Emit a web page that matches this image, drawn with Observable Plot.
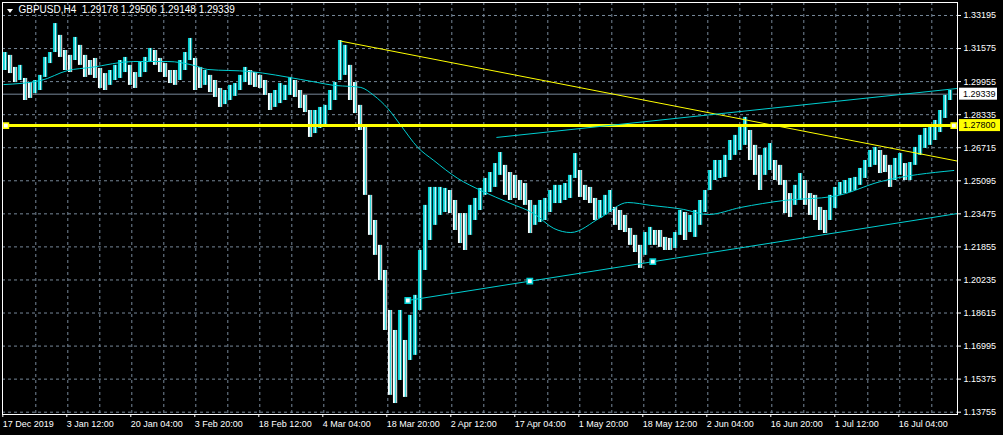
<!DOCTYPE html>
<html><head><meta charset="utf-8">
<script src="https://cdn.jsdelivr.net/npm/d3@7"></script>
<script src="https://cdn.jsdelivr.net/npm/@observablehq/plot@0.6"></script>
<style>html,body{margin:0;padding:0;background:#000;overflow:hidden}#chart{width:1003px;height:435px}</style>
</head><body><div id="chart"></div>
<script>
// ---- data ----
const symbolTitle = "GBPUSD,H4  1.29178 1.29506 1.29148 1.29339";
const barsPerGroup = 5; // each drawn stroke summarises 5 consecutive H4 bars
const groupHigh = [
1.3138,1.3124,1.3065,1.3075,1.3011,1.2991,1.3001,1.3026,1.3114,1.3138,
1.3280,1.3222,1.3148,1.3124,1.3212,1.3173,1.3124,1.3099,1.3109,1.3060,
1.3035,1.3050,1.3075,1.3099,1.3114,1.3075,1.3040,1.3089,1.3114,1.3158,
1.3148,1.3109,1.3084,1.3050,1.3050,1.3099,1.3138,1.3207,1.3109,1.3065,
1.3050,1.3026,1.3001,1.2962,1.2952,1.2977,1.2986,1.3026,1.3065,1.3050,
1.3040,1.3026,1.3001,1.2937,1.2952,1.2986,1.2977,1.3016,1.3001,1.2952,
1.2928,1.2854,1.2854,1.2869,1.2879,1.2952,1.2991,1.3197,1.3173,1.3075,
1.2991,1.2879,1.2781,1.2438,1.2315,1.2193,1.2070,1.1874,1.1776,1.1874,
1.1727,1.1850,1.1948,1.2168,1.2389,1.2477,1.2477,1.2477,1.2472,1.2462,
1.2413,1.2349,1.2349,1.2389,1.2423,1.2472,1.2521,1.2550,1.2594,1.2648,
1.2585,1.2550,1.2536,1.2511,1.2496,1.2413,1.2389,1.2413,1.2423,1.2462,
1.2487,1.2487,1.2496,1.2536,1.2643,1.2560,1.2487,1.2477,1.2423,1.2413,
1.2438,1.2462,1.2379,1.2364,1.2340,1.2276,1.2242,1.2193,1.2256,1.2281,
1.2266,1.2266,1.2232,1.2227,1.2256,1.2364,1.2354,1.2340,1.2364,1.2413,
1.2462,1.2560,1.2609,1.2609,1.2634,1.2707,1.2732,1.2781,1.2820,1.2756,
1.2683,1.2634,1.2668,1.2692,1.2609,1.2585,1.2511,1.2447,1.2487,1.2545,
1.2511,1.2447,1.2438,1.2379,1.2364,1.2438,1.2477,1.2501,1.2511,1.2521,
1.2526,1.2570,1.2609,1.2658,1.2673,1.2658,1.2634,1.2585,1.2619,1.2643,
1.2594,1.2599,1.2673,1.2732,1.2766,1.2771,1.2805,1.2854,1.2928,1.2952];
const groupLow = [
1.3050,1.3035,1.2991,1.3001,1.2903,1.2913,1.2937,1.2952,1.3016,1.3084,
1.3138,1.3114,1.3050,1.3040,1.3099,1.3075,1.3016,1.3026,1.3011,1.2962,
1.2952,1.2977,1.3001,1.3011,1.3040,1.2977,1.2962,1.3016,1.3040,1.3089,
1.3075,1.3040,1.3016,1.2986,1.2977,1.3001,1.3050,1.3099,1.2952,1.2962,
1.2977,1.2942,1.2918,1.2869,1.2883,1.2903,1.2923,1.2952,1.2991,1.2977,
1.2967,1.2962,1.2928,1.2854,1.2869,1.2888,1.2903,1.2928,1.2918,1.2864,
1.2844,1.2722,1.2741,1.2766,1.2781,1.2854,1.2903,1.3001,1.3026,1.2903,
1.2839,1.2756,1.2438,1.2242,1.2144,1.2021,1.1776,1.1458,1.1418,1.1531,
1.1448,1.1629,1.1654,1.1874,1.2070,1.2217,1.2291,1.2340,1.2354,1.2349,
1.2266,1.2202,1.2168,1.2242,1.2315,1.2364,1.2438,1.2452,1.2477,1.2536,
1.2438,1.2413,1.2423,1.2413,1.2389,1.2251,1.2291,1.2305,1.2315,1.2354,
1.2398,1.2398,1.2413,1.2423,1.2521,1.2428,1.2413,1.2398,1.2315,1.2325,
1.2340,1.2354,1.2291,1.2266,1.2256,1.2193,1.2158,1.2080,1.2144,1.2193,
1.2193,1.2183,1.2168,1.2168,1.2178,1.2242,1.2217,1.2256,1.2232,1.2291,
1.2354,1.2462,1.2511,1.2521,1.2526,1.2609,1.2634,1.2658,1.2683,1.2609,
1.2536,1.2462,1.2536,1.2560,1.2511,1.2487,1.2349,1.2330,1.2389,1.2413,
1.2389,1.2340,1.2315,1.2266,1.2251,1.2315,1.2374,1.2438,1.2447,1.2452,
1.2462,1.2487,1.2521,1.2575,1.2585,1.2545,1.2550,1.2477,1.2511,1.2536,
1.2511,1.2511,1.2585,1.2634,1.2668,1.2683,1.2707,1.2746,1.2815,1.2903];
const maBar   = [0,37,64,87,130,164,190,204,246,297,314,330,347,357,370,384,397,414,430,454,477,507,530,550,567,597,624,647,680,704,737,780,830,877,950];
const maValue = [1.2981,1.3001,1.3050,1.3065,1.3094,1.3094,1.3075,1.3055,1.3045,1.3006,1.2991,1.2977,1.2972,1.2967,1.2928,1.2864,1.2781,1.2673,1.2609,1.2521,1.2462,1.2398,1.2349,1.2276,1.2256,1.2330,1.2403,1.2389,1.2369,1.2344,1.2379,1.2413,1.2433,1.2506,1.2560];
const priceTicks = [1.33195,1.31575,1.29955,1.28335,1.26715,1.25095,1.23475,1.21855,1.20235,1.18615,1.16995,1.15375,1.13755];
const timeLabels = ["17 Dec 2019","3 Jan 12:00","20 Jan 04:00","3 Feb 20:00","18 Feb 12:00","4 Mar 04:00","18 Mar 20:00","2 Apr 12:00","17 Apr 04:00","1 May 20:00","18 May 12:00","2 Jun 04:00","16 Jun 20:00","1 Jul 12:00","16 Jul 04:00"];
const barsPerLabel = 64;
const barsPerGrid = 32;
const barDomain = [-1.3, 953.7];
const priceDomain = [1.13642, 1.33832];
const bidPrice = 1.29339;
const levelPrice = 1.27800;
const levelAnchorBars = [2, 950];
const yellowTrend = [{bar:337, price:1.3194},{bar:953.7, price:1.2606}];
const channelUpper = [{bar:493, price:1.2722},{bar:953.7, price:1.2962}];
const channelLower = [{bar:404, price:1.1923},{bar:953.7, price:1.2349}];
const channelAnchors = [{bar:404, price:1.1923},{bar:526, price:1.2018},{bar:649, price:1.2113}];

// ---- derived tables ----
const TEAL = "#00ced1", GRID = "#778899";
const candles = groupHigh.map((h, g) => {
  const mid = (h + groupLow[g]) / 2;
  const prevMid = g > 0 ? (groupHigh[g-1] + groupLow[g-1]) / 2 : mid;
  return {b1: g*barsPerGroup - 0.5, b2: g*barsPerGroup + barsPerGroup - 0.5, high: h, low: groupLow[g], up: mid >= prevMid};
});
const ma = maBar.map((b, i) => ({bar: b, price: maValue[i]}));
const labelBars = timeLabels.map((_, i) => i * barsPerLabel);
const gridBars = d3.range(barsPerGrid, barDomain[1], barsPerGrid);
const levelAnchors = levelAnchorBars.map(b => ({bar: b, price: levelPrice}));

const plot = Plot.plot({
  width: 1003, height: 435,
  marginLeft: 2, marginRight: 46, marginTop: 2, marginBottom: 21,
  style: {background: "#000", color: "#fff", fontFamily: "Liberation Sans, Arial, sans-serif", fontSize: "9px"},
  x: {type: "linear", domain: barDomain},
  y: {type: "linear", domain: priceDomain},
  marks: [
    Plot.gridY(priceTicks, {stroke: GRID, strokeOpacity: 1, strokeDasharray: "3,3"}),
    Plot.gridX(gridBars, {stroke: GRID, strokeOpacity: 1, strokeDasharray: "3,3"}),
    Plot.ruleY([bidPrice], {stroke: GRID, strokeWidth: 1}),
    Plot.rect(candles.filter(d => d.up), {x1: "b1", x2: "b2", y1: "low", y2: "high", fill: "url(#barsUp)"}),
    Plot.rect(candles.filter(d => !d.up), {x1: "b1", x2: "b2", y1: "low", y2: "high", fill: "url(#barsDown)"}),
    Plot.line(ma, {x: "bar", y: "price", stroke: TEAL, strokeWidth: 1, curve: "monotone-x"}),
    Plot.ruleY([levelPrice], {stroke: "#ffff00", strokeWidth: 3}),
    Plot.line(yellowTrend, {x: "bar", y: "price", stroke: "#ffff00", strokeWidth: 1}),
    Plot.line(channelUpper, {x: "bar", y: "price", stroke: TEAL, strokeWidth: 1}),
    Plot.line(channelLower, {x: "bar", y: "price", stroke: TEAL, strokeWidth: 1}),
    Plot.dot(channelAnchors, {x: "bar", y: "price", symbol: "square", r: 3, fill: "#fff", stroke: TEAL, strokeWidth: 1.5}),
    Plot.dot(levelAnchors, {x: "bar", y: "price", symbol: "square", r: 3, fill: "#fff", stroke: "#ffff00", strokeWidth: 1.5}),
    Plot.axisY(priceTicks, {anchor: "right", tickSize: 3, tickPadding: 3, tickFormat: d3.format(".5f"), stroke: "#fff", fill: "#fff", label: null}),
    Plot.axisX(labelBars, {anchor: "bottom", tickSize: 3, tickPadding: 3, textAnchor: "start", dx: -1,
      tickFormat: d => timeLabels[Math.round(d / barsPerLabel)], stroke: "#fff", fill: "#fff", label: null}),
    Plot.frame({stroke: "#fff"}),
    Plot.text([symbolTitle], {frameAnchor: "top-left", dx: 16, dy: 3, lineAnchor: "top", textAnchor: "start", fill: "#fff", fontSize: 10})
  ]
});
document.getElementById("chart").appendChild(plot);

const svg = d3.select(plot);
// striped fills imitating the 1-px H4 bars (bull = teal, bear = white)
const xs = plot.scale("x");
const x0 = xs.apply(-0.5);
const defs = svg.insert("defs", ":first-child");
[["barsUp", [TEAL, TEAL, "#fff", TEAL, "#000"]], ["barsDown", ["#fff", "#fff", TEAL, "#fff", "#000"]]].forEach(([id, cols]) => {
  const p = defs.append("pattern").attr("id", id).attr("patternUnits", "userSpaceOnUse")
    .attr("x", x0).attr("y", 0).attr("width", cols.length).attr("height", 4);
  cols.forEach((c, i) => p.append("rect").attr("x", i).attr("y", 0).attr("width", 1).attr("height", 4).attr("fill", c));
});

// price label boxes on the right axis + title triangle
const yScale = plot.scale("y");
const fmt = d3.format(".5f");
svg.selectAll("text").attr("xml:space", "preserve").style("white-space", "pre");
[[bidPrice, "#ffffff", 38], [levelPrice, "#ffff00", 41]].forEach(([p, bg, w]) => {
  const y = yScale.apply(p);
  const g = svg.append("g").attr("text-anchor", "start");
  g.append("rect").attr("x", 959).attr("y", y - 6).attr("width", w).attr("height", 12).attr("fill", bg);
  g.append("text").attr("x", 963).attr("y", y).attr("dy", "0.35em").attr("fill", "#000")
    .attr("text-anchor", "start").attr("font-size", 9).text(fmt(p));
});
svg.append("path").attr("d", "M7,9 L13,9 L10,13 Z").attr("fill", "#fff");
</script>
</body></html>
